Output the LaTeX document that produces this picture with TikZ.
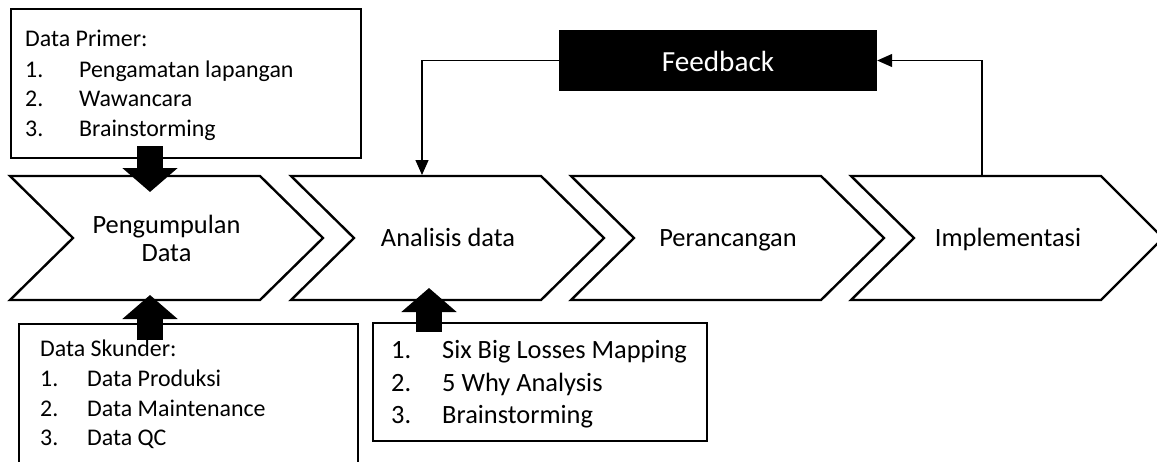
\documentclass[tikz,border=0pt]{standalone}
\usepackage{fontspec}
\setmainfont{Carlito}
\usetikzlibrary{arrows.meta}
\begin{document}
\begin{tikzpicture}[x=1pt,y=-1pt,
  chev/.style={draw=black, line width=2.4pt, line join=miter, fill=white},
  boxnode/.style={draw=black, line width=2.3pt, anchor=north west, inner sep=0pt, fill=white},
  blockarrow/.style={line width=26pt, -{Triangle[length=24pt,width=54pt]}},
  loopline/.style={line width=1.3pt, -{Triangle[length=15pt,width=13pt]}},
  biglabel/.style={font=\fontsize{26.4}{32}\selectfont, anchor=base, inner sep=0pt},
  listA/.style={font=\fontsize{23.9}{29.5}\selectfont, anchor=base west, inner sep=0pt},
  listB/.style={font=\fontsize{26.4}{32.5}\selectfont, anchor=base west, inner sep=0pt},
]
\useasboundingbox (0,0) rectangle (1157,461);

% text boxes
\node[boxnode, minimum width=350pt, minimum height=149pt] (primer) at (10,8) {};
\node[boxnode, minimum width=339pt, minimum height=150pt] (skunder) at (18,323) {};
\node[boxnode, minimum width=334pt, minimum height=118pt] (analisisbox) at (372,322) {};

% chevrons
\draw[chev] (10,176) -- (260,176) -- (323,238) -- (260,300) -- (10,300) -- (73,238) -- cycle;
\draw[chev] (291,176) -- (541,176) -- (604,238) -- (541,300) -- (291,300) -- (354,238) -- cycle;
\draw[chev] (571,176) -- (821,176) -- (884,238) -- (821,300) -- (571,300) -- (634,238) -- cycle;
\draw[chev] (851,176) -- (1101,176) -- (1163,238) -- (1101,300) -- (851,300) -- (914,238) -- cycle;

\node[biglabel] (t1a) at (166.5,233) {Pengumpulan};
\node[biglabel] (t1b) at (166.5,261) {Data};
\node[biglabel] (t2) at (448,246.5) {Analisis data};
\node[biglabel] (t3) at (728,246.5) {Perancangan};
\node[biglabel] (t4) at (1008,246.5) {Implementasi};

% list texts
\node[listA] (pm0) at (25,46.7) {Data Primer:};
\node[listA] (pm1) at (25,77) {\makebox[54pt][l]{1.}Pengamatan lapangan};
\node[listA] (pm2) at (25,106.5) {\makebox[54pt][l]{2.}Wawancara};
\node[listA] (pm3) at (25,136) {\makebox[54pt][l]{3.}Brainstorming};

\node[listA] (sk0) at (40,356) {Data Skunder:};
\node[listA] (sk1) at (40,386.5) {\makebox[47pt][l]{1.}Data Produksi};
\node[listA] (sk2) at (40,416) {\makebox[47pt][l]{2.}Data Maintenance};
\node[listA] (sk3) at (40,445.5) {\makebox[47pt][l]{3.}Data QC};

\node[listB] (an1) at (391,358.5) {\makebox[51pt][l]{1.}Six Big Losses Mapping};
\node[listB] (an2) at (391,391) {\makebox[51pt][l]{2.}5 Why Analysis};
\node[listB] (an3) at (391,423.5) {\makebox[51pt][l]{3.}Brainstorming};

% feedback
\node[fill=black, minimum width=318pt, minimum height=61pt, inner sep=0pt] (fb) at (718,60.5) {};
\node[text=white, font=\fontsize{29.2}{35}\selectfont, anchor=base, inner sep=0pt] (fbtext) at (718,71.5) {Feedback};

\coordinate (c2top) at (422,175);
\coordinate (c4top) at (982,176.5);
\draw[loopline] (fb.west) -| (c2top);
\draw[loopline] (c4top) |- (fb.east);

% block arrows
\coordinate (a1s) at (150,146);
\coordinate (a1e) at (150,192);
\coordinate (a2s) at (150,340);
\coordinate (a2e) at (150,295);
\coordinate (a3s) at (429,332);
\coordinate (a3e) at (429,288);
\draw[blockarrow] (a1s) -- (a1e);
\draw[blockarrow] (a2s) -- (a2e);
\draw[blockarrow] (a3s) -- (a3e);
\end{tikzpicture}
\end{document}
